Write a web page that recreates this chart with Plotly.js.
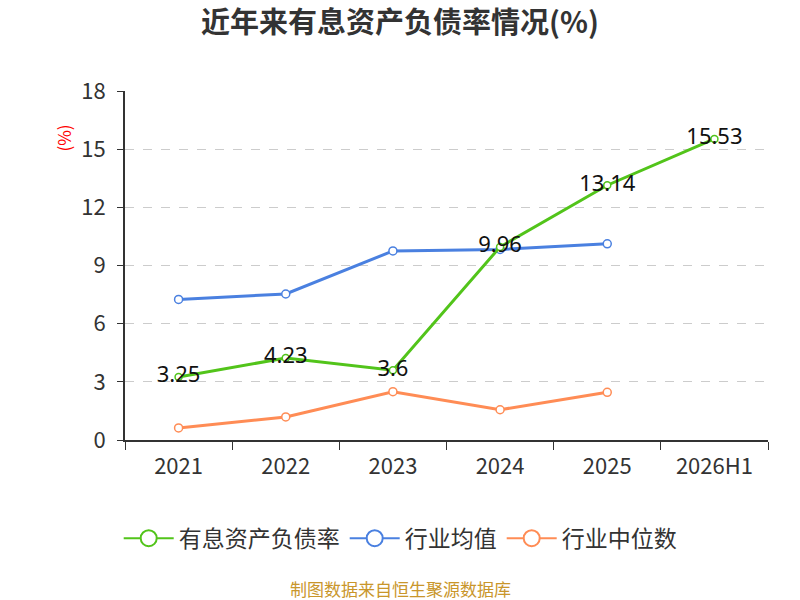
<!DOCTYPE html>
<html>
<head>
<meta charset="utf-8">
<script src="https://cdn.plot.ly/plotly-3.0.1.min.js"></script>
<style>
  body { margin: 0; background: #fff; }
  #chart { width: 800px; height: 600px; }
</style>
</head>
<body>
<div id="chart"></div>
<script>
// categories and values
var years = ['2021', '2022', '2023', '2024', '2025', '2026H1'];
var debtRate = [3.25, 4.23, 3.6, 9.96, 13.14, 15.53];
var industryMean = [7.25, 7.53, 9.75, 9.83, 10.12];
var industryMedian = [0.62, 1.19, 2.49, 1.56, 2.46];
var yTicks = [0, 3, 6, 9, 12, 15, 18];

var green = '#52c41a';
var blue = '#4a80e0';
var orange = '#ff8c55';
var font = '"Noto Sans CJK SC", "Noto Sans", sans-serif';

function lineTrace(name, y, color, size, labels) {
  var t = {
    x: years.slice(0, y.length),
    y: y,
    name: name,
    type: 'scatter',
    mode: labels ? 'lines+markers+text' : 'lines+markers',
    line: { color: color, width: 3 },
    marker: { size: size, color: '#fff', line: { color: color, width: 1.5 } },
    showlegend: false,
    cliponaxis: false,
    hoverinfo: 'x+y'
  };
  if (labels) {
    t.text = y.map(String);
    t.textposition = 'middle center';
    t.textfont = { size: 22, color: '#111', family: '"Noto Sans", "Open Sans", sans-serif' };
  }
  return t;
}

function legendTrace(name, color) {
  return {
    x: [null], y: [null], name: name, type: 'scatter', mode: 'lines+markers',
    line: { color: color, width: 2 },
    marker: { size: 16, color: '#fff', line: { color: color, width: 2 } },
    hoverinfo: 'skip'
  };
}

var data = [
  lineTrace('行业均值', industryMean, blue, 8, false),
  lineTrace('行业中位数', industryMedian, orange, 8, false),
  lineTrace('有息资产负债率', debtRate, green, 7, true),
  legendTrace('有息资产负债率', green),
  legendTrace('行业均值', blue),
  legendTrace('行业中位数', orange)
];

var layout = {
  width: 800,
  height: 600,
  margin: { l: 125, r: 32, t: 91, b: 160 },
  paper_bgcolor: '#fff',
  plot_bgcolor: '#fff',
  font: { family: font, color: '#333' },
  title: {
    text: '<b>近年来有息资产负债率情况(%)</b>',
    x: 0.5, xanchor: 'center', y: 0.962, yanchor: 'middle',
    font: { size: 29, color: '#333', family: font }
  },
  xaxis: {
    type: 'category',
    categoryorder: 'array',
    categoryarray: years,
    range: [-0.5, 5.5],
    tickson: 'boundaries',
    ticks: 'outside',
    ticklen: 8,
    tickcolor: '#333',
    ticklabelstandoff: 6,
    showline: true,
    linecolor: '#333',
    linewidth: 2,
    showgrid: false,
    tickfont: { size: 22, color: '#333', family: font },
    fixedrange: true
  },
  yaxis: {
    range: [0, 18],
    tickvals: yTicks,
    ticks: 'outside',
    ticklen: 6,
    tickcolor: '#333',
    ticklabelstandoff: 7,
    showline: true,
    linecolor: '#333',
    linewidth: 2,
    showgrid: true,
    gridcolor: '#cccccc',
    griddash: 'dash',
    gridwidth: 1,
    zeroline: false,
    tickfont: { size: 22, color: '#333', family: font },
    fixedrange: true
  },
  legend: {
    orientation: 'h',
    x: 0.428, xanchor: 'center',
    y: -0.22, yanchor: 'top',
    font: { size: 23, color: '#333', family: font },
    itemwidth: 50
  },
  annotations: [
    {
      text: '(%)', xref: 'paper', yref: 'paper', x: -0.118, y: 0.91,
      showarrow: false, textangle: -90, font: { size: 17, color: '#ff0000', family: font }
    },
    {
      text: '制图数据来自恒生聚源数据库', xref: 'paper', yref: 'paper',
      x: 0.428, y: -0.425, xanchor: 'center', yanchor: 'middle',
      showarrow: false, font: { size: 17, color: '#c9962b', family: font }
    }
  ]
};

Plotly.newPlot(document.getElementById('chart'), data, layout, { displayModeBar: false, staticPlot: true });
</script>
</body>
</html>
